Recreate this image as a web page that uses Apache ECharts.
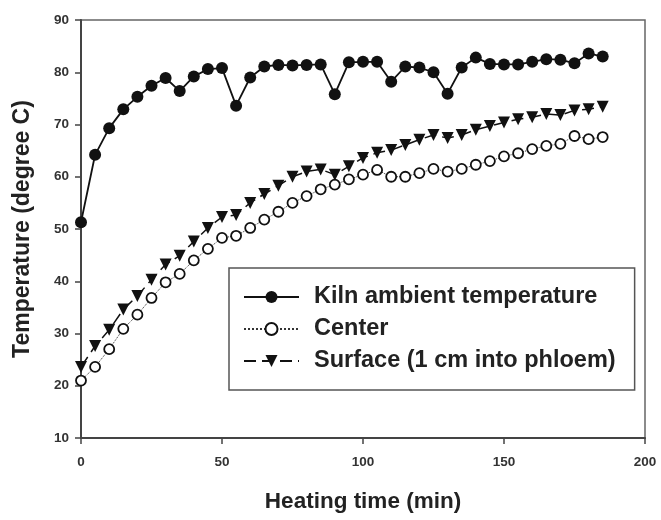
<!DOCTYPE html>
<html>
<head>
<meta charset="utf-8">
<script src="https://cdn.jsdelivr.net/npm/echarts@6/dist/echarts.min.js"></script>
<style>
  html, body { margin: 0; padding: 0; background: #fff; }
  #kiln-chart { width: 661px; height: 520px; }
</style>
</head>
<body>
<div id="kiln-chart"></div>
<script>
// heating time (min)
var minutes = [0, 5, 10, 15, 20, 25, 30, 35, 40, 45, 50, 55, 60, 65, 70, 75, 80, 85, 90, 95,
  100, 105, 110, 115, 120, 125, 130, 135, 140, 145, 150, 155, 160, 165, 170, 175, 180, 185];

// temperatures (degree C)
var kiln = [51.3, 64.2, 69.3, 72.9, 75.3, 77.4, 78.9, 76.4, 79.2, 80.6, 80.8, 73.6, 79.0, 81.1, 81.4, 81.3, 81.4, 81.5, 75.8, 81.9,
  82.0, 82.0, 78.2, 81.1, 80.9, 80.0, 75.9, 80.9, 82.8, 81.6, 81.5, 81.5, 82.0, 82.5, 82.4, 81.7, 83.6, 83.0];
var center = [21.0, 23.6, 27.0, 30.9, 33.6, 36.8, 39.8, 41.4, 44.0, 46.2, 48.3, 48.7, 50.2, 51.8, 53.3, 55.0, 56.3, 57.6, 58.5, 59.5,
  60.4, 61.3, 60.0, 60.0, 60.7, 61.5, 61.0, 61.5, 62.3, 63.0, 63.9, 64.5, 65.3, 65.9, 66.3, 67.8, 67.2, 67.6];
var surface = [23.6, 27.6, 30.7, 34.6, 37.2, 40.3, 43.2, 44.9, 47.6, 50.2, 52.3, 52.7, 55.0, 56.7, 58.3, 60.0, 61.0, 61.4, 60.4, 62.0,
  63.6, 64.6, 65.1, 66.1, 67.1, 68.0, 67.4, 68.0, 69.0, 69.7, 70.4, 71.0, 71.4, 72.0, 71.8, 72.7, 72.9, 73.4];

var seriesNames = ['Kiln ambient temperature', 'Center', 'Surface (1 cm into phloem)'];

var FONT = '"Liberation Sans", Arial, Helvetica, sans-serif';

function pairs(values) {
  return values.map(function (v, i) { return [minutes[i], v]; });
}

function option() {
  return {
    animation: false,
    backgroundColor: '#fff',
    textStyle: { fontFamily: FONT },
    grid: {
      left: 81, right: 16, top: 20, bottom: 82,
      show: true,
      borderColor: '#666',
      borderWidth: 1.5
    },
    legend: {
      orient: 'vertical',
      left: 229,
      top: 268,
      padding: [17, 19, 17, 14],
      itemGap: 8,
      itemWidth: 55,
      itemHeight: 15,
      backgroundColor: '#fff',
      borderColor: '#555',
      borderWidth: 1.5,
      borderRadius: 0,
      textStyle: {
        fontFamily: FONT,
        fontSize: 23.5,
        fontWeight: 'bold',
        color: '#222',
        lineHeight: 24,
        padding: [0, 0, 0, 10]
      },
      data: seriesNames
    },
    xAxis: {
      type: 'value',
      min: 0,
      max: 200,
      interval: 50,
      name: 'Heating time (min)',
      nameLocation: 'middle',
      nameGap: 52,
      nameTextStyle: { fontFamily: FONT, fontSize: 22.5, fontWeight: 'bold', color: '#222' },
      axisLine: { onZero: false, lineStyle: { color: '#444', width: 2 } },
      axisTick: { show: true, inside: false, length: 6, lineStyle: { color: '#444', width: 1.5 } },
      axisLabel: { margin: 17, fontFamily: FONT, fontSize: 13.5, fontWeight: 'bold', color: '#333' },
      splitLine: { show: false }
    },
    yAxis: {
      type: 'value',
      min: 10,
      max: 90,
      interval: 10,
      name: 'Temperature (degree C)',
      nameLocation: 'middle',
      nameGap: 47,
      nameTextStyle: { fontFamily: FONT, fontSize: 23, fontWeight: 'bold', color: '#222' },
      axisLine: { onZero: false, lineStyle: { color: '#444', width: 2 } },
      axisTick: { show: true, inside: false, length: 6, lineStyle: { color: '#444', width: 1.5 } },
      axisLabel: { margin: 12, fontFamily: FONT, fontSize: 13.5, fontWeight: 'bold', color: '#333' },
      splitLine: { show: false }
    },
    series: [{
      name: seriesNames[0],
      type: 'line',
      clip: false,
      data: pairs(kiln),
      symbol: 'circle',
      symbolSize: 12,
      itemStyle: { color: '#111', borderColor: '#111', borderWidth: 0 },
      lineStyle: { color: '#111', width: 1.8, type: 'solid' },
      z: 3
    }, {
      name: seriesNames[1],
      type: 'line',
      clip: false,
      data: pairs(center),
      symbol: 'circle',
      symbolSize: 10,
      itemStyle: { color: '#fff', borderColor: '#111', borderWidth: 1.8 },
      lineStyle: { color: '#333', width: 1, type: 'dotted' },
      z: 2
    }, {
      name: seriesNames[2],
      type: 'line',
      clip: false,
      data: pairs(surface),
      symbol: 'triangle',
      symbolRotate: 180,
      symbolSize: 12,
      itemStyle: { color: '#111', borderColor: '#111', borderWidth: 0 },
      lineStyle: { color: '#111', width: 1.5, type: [12, 6] },
      z: 2
    }]
  };
}

var myChart = echarts.init(document.getElementById('kiln-chart'), null, { renderer: 'canvas' });
myChart.setOption(option());
</script>
</body>
</html>
